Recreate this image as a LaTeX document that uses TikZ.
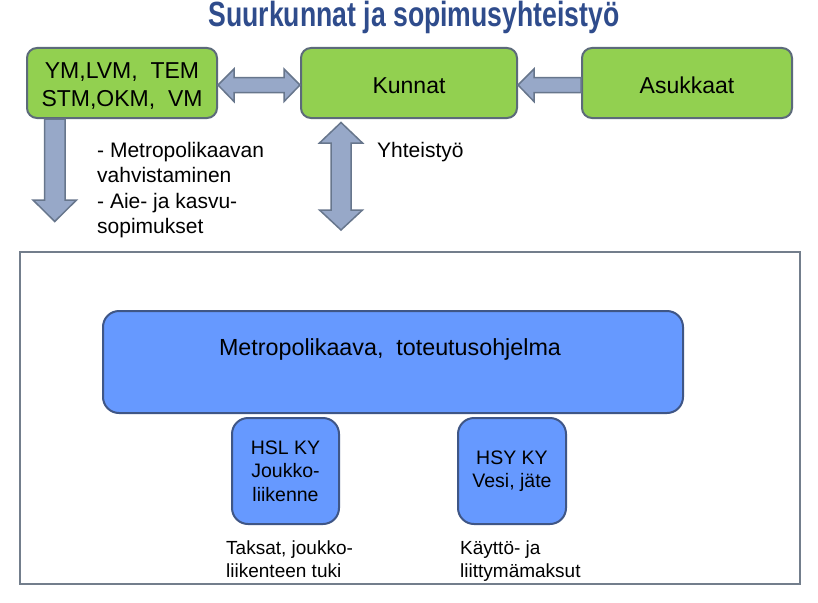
\documentclass[tikz,border=0pt]{standalone}
\usepackage{fontspec}
\setmainfont{Liberation Sans}
\definecolor{titleblue}{HTML}{2F4C8C}
\definecolor{boxgreen}{HTML}{92D050}
\definecolor{boxedge}{HTML}{5C6A7A}
\definecolor{arrowfill}{HTML}{97A8C8}
\definecolor{arrowedge}{HTML}{67768C}
\definecolor{boxblue}{HTML}{6699FF}
\definecolor{blueedge}{HTML}{3F5686}
\definecolor{frameedge}{HTML}{737E8C}
\begin{document}
\begin{tikzpicture}[x=1pt,y=-1pt,
  gbox/.style={draw=boxedge, line width=2pt, fill=boxgreen, rounded corners=10pt,
    minimum height=70pt, align=center, font=\fontsize{23}{28}\selectfont},
  onelinebox/.style={text height=20.5pt, text depth=0pt},
  bbox/.style={draw=blueedge, line width=2pt, fill=boxblue, rounded corners=16pt, align=center,
    font=\fontsize{19.5}{23.5}\selectfont},
  blockarrow/.style={draw=arrowedge, line width=1.5pt, fill=arrowfill, line join=miter},
  plain/.style={align=left, inner sep=0pt, font=\fontsize{21}{25.3}\selectfont}
]
\useasboundingbox (0,0) rectangle (818,602);
\fill[white] (0,0) rectangle (818,602);

\node[text=titleblue, inner sep=0pt] (title) at (414,17)
  {\scalebox{0.76}[1]{\fontsize{35}{40}\selectfont\bfseries Suurkunnat ja sopimusyhteistyö}};

\node[gbox, minimum width=190pt] (min) at (122,83) {\raisebox{-10.4pt}[0pt][0pt]{\begin{tabular}{@{}c@{}}YM,LVM,\ \ TEM\\STM,OKM,\ \ VM\end{tabular}}};
\node[gbox, onelinebox, minimum width=216pt] (kunnat) at (409,83) {Kunnat};
\node[gbox, onelinebox, minimum width=210pt] (asuk) at (687,83) {Asukkaat};

% double arrow min <-> kunnat
\draw[blockarrow] (min.east |- 0,85) -- (234,69) -- (234,77.5) -- (284,77.5) -- (284,69)
  -- (kunnat.west |- 0,85) -- (284,101.5) -- (284,92.5) -- (234,92.5) -- (234,101.5) -- cycle;
% arrow asukkaat -> kunnat
\draw[blockarrow] (kunnat.east |- 0,85) -- (534,69) -- (534,77.5) -- (asuk.west |- 0,77.5)
  -- (asuk.west |- 0,92.5) -- (534,92.5) -- (534,101.5) -- cycle;
% down arrow from min
\draw[blockarrow] (44.5,119) -- (65,119) -- (65,200) -- (76.5,200) -- (54.75,221.5)
  -- (33,200) -- (44.5,200) -- cycle;
% vertical double arrow below kunnat
\coordinate (vtop) at (341,122.5);
\coordinate (vbot) at (341,230);
\draw[blockarrow] (vtop) -- (362.5,143) -- (351,143) -- (351,210) -- (362.5,210) -- (vbot)
  -- (319.5,210) -- (331,210) -- (331,143) -- (319.5,143) -- cycle;

\node[plain, anchor=north west] (sopimus) at (97,142)
  {- Metropolikaavan\\vahvistaminen\\- Aie- ja kasvu-\\sopimukset};
\node[plain, anchor=west] (yht) at (377,152) {Yhteistyö};

% frame
\draw[frameedge, line width=2pt] (20,252) rectangle (800,584);

\node[bbox, minimum width=580pt, minimum height=102pt] (metro) at (393,362) {};
\node[inner sep=0pt, font=\fontsize{23.3}{26}\selectfont] (metrotxt) at (390,349) {Metropolikaava,\ \ toteutusohjelma};

\node[bbox, minimum width=107pt, minimum height=106pt] (hsl) at (285.5,471) {HSL KY\\Joukko-\\liikenne};
\node[bbox, minimum width=108pt, minimum height=106pt] (hsy) at (512,471) {HSY KY\\Vesi, jäte};

\node[plain, anchor=north west, font=\fontsize{19}{23}\selectfont] (taksat) at (226,541)
  {Taksat, joukko-\\liikenteen tuki};
\node[plain, anchor=north west, font=\fontsize{19}{23}\selectfont] (kaytto) at (460,541)
  {Käyttö- ja\\liittymämaksut};
\end{tikzpicture}
\end{document}
